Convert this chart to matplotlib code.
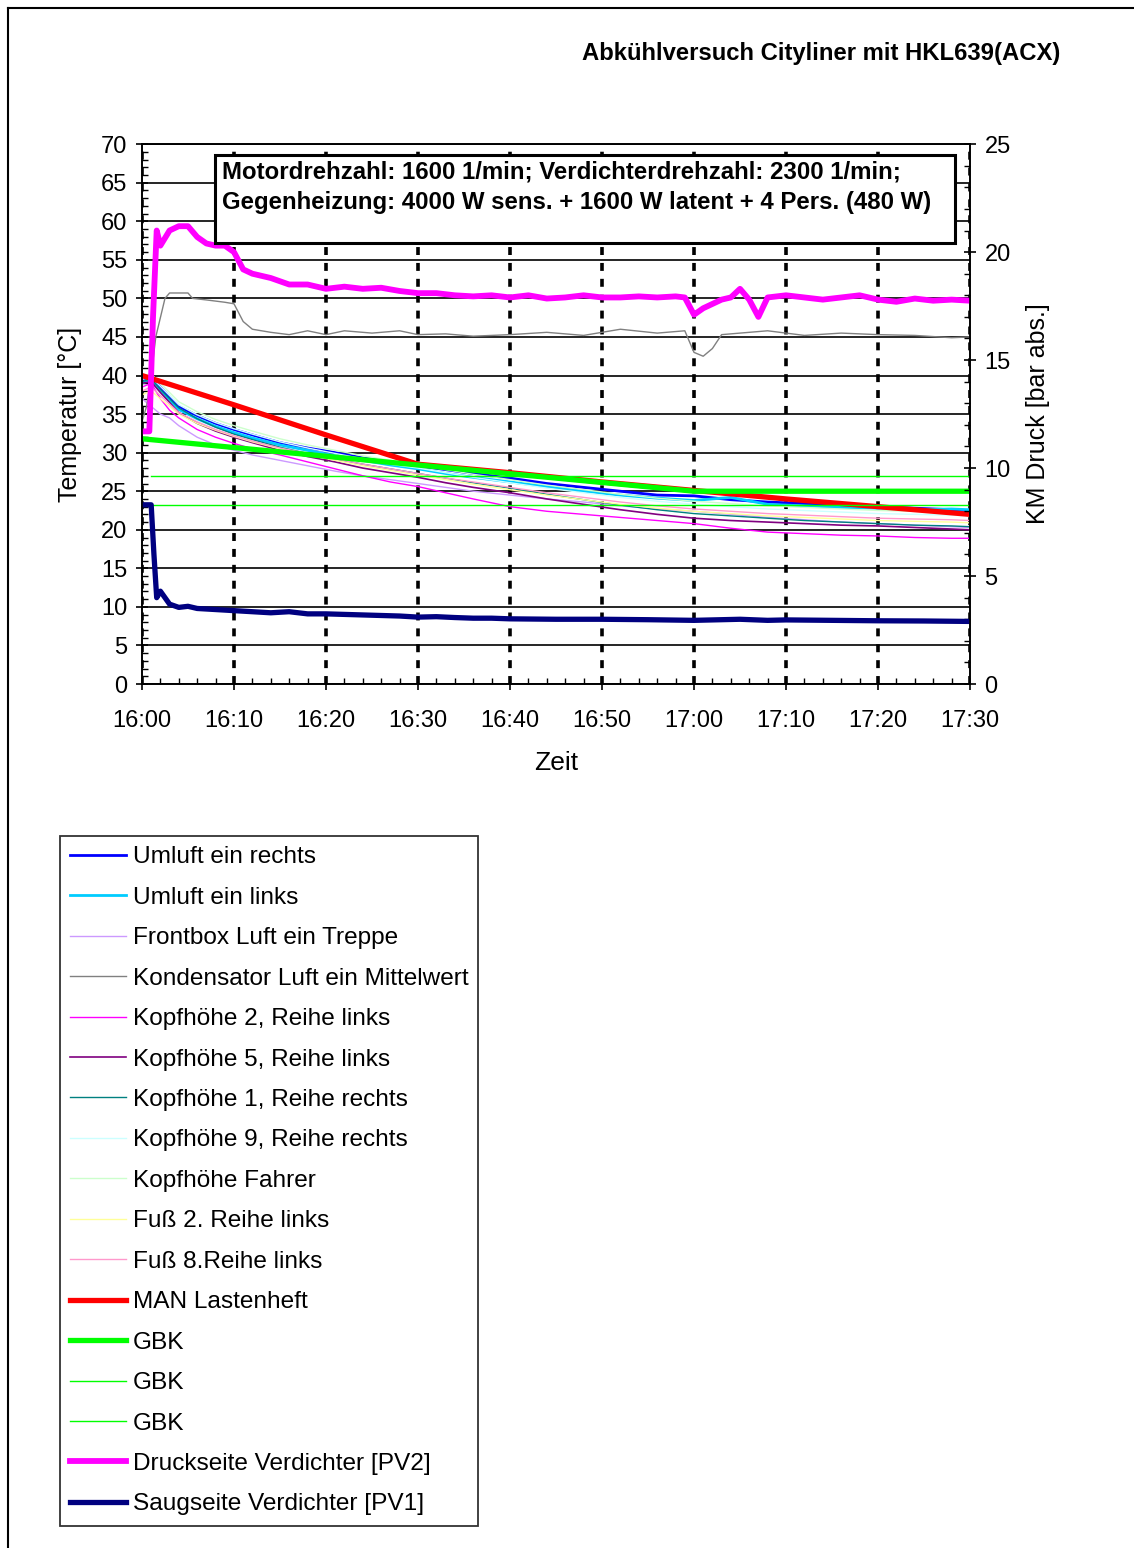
import matplotlib

matplotlib.use("Agg")
import matplotlib.pyplot as plt
from matplotlib.lines import Line2D
from matplotlib.patches import Rectangle
from matplotlib.ticker import MultipleLocator

# time in minutes after 16:00
time_labels = ["16:00", "16:10", "16:20", "16:30", "16:40", "16:50",
               "17:00", "17:10", "17:20", "17:30"]

# cabin temperatures [°C]
t_cab = [0, 1, 2, 3, 4, 6, 8, 10, 12, 15, 18, 21, 24, 27, 30, 33, 36,
         40, 44, 48, 52, 56, 60, 64, 68, 72, 76, 80, 84, 88, 90]
umluft_rechts = [39.5, 39.8, 38.5, 37.2, 36.0, 34.8, 33.8, 33.0, 32.3, 31.3,
                 30.6, 30.0, 29.3, 28.8, 28.3, 27.8, 27.3, 26.7, 26.0, 25.5,
                 25.0, 24.5, 24.4, 23.9, 23.6, 23.4, 23.1, 23.0, 22.8, 22.6, 22.4]
umluft_links = [39.0, 39.5, 38.0, 36.8, 35.6, 34.4, 33.4, 32.6, 31.9, 31.0,
                30.3, 29.6, 29.0, 28.4, 27.9, 27.3, 26.8, 26.2, 25.6, 25.0,
                24.5, 24.1, 23.8, 24.2, 23.3, 23.1, 22.9, 22.8, 22.6, 22.7, 22.6]
frontbox = [37.0, 36.0, 35.0, 34.5, 33.5, 32.0, 31.0, 30.3, 29.7, 29.0,
            28.3, 27.6, 27.0, 26.5, 26.0, 25.5, 25.0, 24.5, 24.0, 23.6,
            23.1, 22.7, 22.4, 22.0, 21.6, 21.3, 21.0, 20.8, 20.6, 20.4, 20.3]
kopf_2 = [38.5, 39.0, 37.0, 35.5, 34.5, 33.0, 32.0, 31.2, 30.5, 29.7,
          28.8, 27.9, 27.0, 26.2, 25.6, 24.8, 24.0, 23.0, 22.4, 22.0,
          21.6, 21.2, 20.8, 20.2, 19.7, 19.5, 19.3, 19.2, 19.0, 18.9, 18.9]
kopf_5 = [39.0, 39.2, 37.8, 36.5, 35.2, 33.8, 32.8, 32.0, 31.3, 30.3,
          29.5, 28.8, 28.0, 27.4, 26.8, 26.1, 25.5, 24.8, 24.0, 23.3,
          22.6, 22.0, 21.5, 21.2, 21.0, 20.8, 20.6, 20.5, 20.3, 20.1, 20.0]
kopf_1 = [39.2, 39.6, 38.2, 37.0, 35.8, 34.4, 33.3, 32.4, 31.7, 30.7,
          29.9, 29.2, 28.5, 27.9, 27.3, 26.7, 26.1, 25.4, 24.6, 23.9,
          23.2, 22.6, 22.1, 21.8, 21.5, 21.2, 21.0, 20.8, 20.6, 20.5, 20.4]
kopf_9 = [39.5, 39.8, 38.6, 37.4, 36.2, 34.9, 33.9, 33.1, 32.4, 31.4,
          30.6, 29.9, 29.2, 28.5, 28.0, 27.4, 26.8, 26.1, 25.4, 24.8,
          24.2, 23.7, 23.3, 23.0, 22.7, 22.5, 22.3, 22.1, 22.0, 21.9, 21.8]
kopf_fahrer = [40.0, 40.2, 39.0, 37.8, 36.6, 35.3, 34.3, 33.5, 32.8, 31.8,
               31.0, 30.3, 29.6, 29.0, 28.4, 27.8, 27.2, 26.5, 25.8, 25.2,
               24.6, 24.1, 23.7, 23.4, 23.1, 22.9, 22.7, 22.5, 22.4, 22.3, 22.2]
fuss_2 = [37.5, 38.0, 37.0, 36.0, 35.0, 33.8, 32.9, 32.1, 31.4, 30.5,
          29.7, 29.0, 28.3, 27.7, 27.1, 26.5, 25.9, 25.2, 24.5, 23.9,
          23.3, 22.8, 22.4, 22.1, 21.8, 21.6, 21.4, 21.2, 21.1, 21.0, 20.9]
fuss_8 = [38.0, 38.5, 37.4, 36.3, 35.2, 34.0, 33.0, 32.2, 31.5, 30.6,
          29.9, 29.2, 28.5, 27.9, 27.3, 26.7, 26.2, 25.5, 24.8, 24.2,
          23.6, 23.1, 22.7, 22.4, 22.1, 21.9, 21.7, 21.5, 21.4, 21.3, 21.2]

# condenser air inlet [°C]
t_kond = [0, 0.5, 1, 1.5, 2.5, 3, 5, 5.5, 7, 9, 10, 11, 12, 14, 16, 18, 20,
          22, 25, 28, 30, 33, 36, 40, 44, 48, 52, 56, 59, 60, 61, 62, 63, 65,
          68, 72, 76, 80, 84, 88, 90]
kondensator = [34.0, 36.0, 40.0, 45.0, 50.0, 50.7, 50.7, 50.0, 49.8, 49.5,
               49.3, 47.0, 46.0, 45.6, 45.3, 45.8, 45.3, 45.8, 45.5, 45.8,
               45.3, 45.4, 45.1, 45.3, 45.6, 45.2, 46.0, 45.5, 45.8, 43.0,
               42.5, 43.5, 45.3, 45.5, 45.8, 45.2, 45.5, 45.3, 45.2, 44.9, 45.0]

# reference curves [°C]
t_man = [0, 10, 20, 30, 40, 50, 60, 70, 80, 90]
man_lastenheft = [40.0, 36.2, 32.3, 28.5, 27.4, 26.2, 25.1, 24.0, 23.0, 22.0]
t_gbk = [0, 60, 90]
gbk = [31.8, 25.0, 25.0]
t_gbk_lim = [1, 90]
gbk_oben = [27.0, 27.0]
gbk_unten = [23.2, 23.2]

# compressor pressures [bar abs.]
t_pv2 = [0, 0.8, 1.2, 1.6, 2, 3, 4, 5, 6, 7, 8, 9, 10, 11, 12, 14, 16, 18,
         20, 22, 24, 26, 28, 30, 32, 34, 36, 38, 40, 42, 44, 46, 48, 50, 52,
         54, 56, 58, 59, 60, 61, 62, 63, 64, 65, 66, 67, 68, 70, 72, 74, 76,
         78, 80, 82, 84, 86, 88, 90]
druckseite = [11.7, 11.7, 17.0, 21.0, 20.3, 21.0, 21.2, 21.2, 20.7, 20.4,
              20.3, 20.3, 20.0, 19.2, 19.0, 18.8, 18.5, 18.5, 18.3, 18.4,
              18.3, 18.35, 18.2, 18.1, 18.1, 18.0, 17.95, 18.0, 17.9, 18.0,
              17.85, 17.9, 18.0, 17.9, 17.9, 17.95, 17.9, 17.95, 17.9, 17.1,
              17.4, 17.6, 17.8, 17.9, 18.3, 17.8, 17.0, 17.9, 18.0, 17.9,
              17.8, 17.9, 18.0, 17.8, 17.7, 17.85, 17.75, 17.8, 17.75]
t_pv1 = [0, 1, 1.3, 1.6, 2, 3, 4, 5, 6, 8, 10, 12, 14, 16, 18, 20, 24, 28,
         30, 32, 34, 36, 38, 40, 45, 50, 55, 60, 65, 68, 70, 75, 80, 85, 90]
saugseite = [8.3, 8.3, 6.0, 4.0, 4.3, 3.7, 3.55, 3.6, 3.5, 3.45, 3.4, 3.35,
             3.3, 3.35, 3.25, 3.25, 3.2, 3.15, 3.1, 3.12, 3.08, 3.05, 3.05,
             3.02, 3.0, 3.0, 2.98, 2.95, 3.0, 2.95, 2.97, 2.95, 2.93, 2.92, 2.9]


def main():
    plt.rcParams["font.family"] = ["Liberation Sans", "DejaVu Sans"]
    fig = plt.figure(figsize=(11.34, 15.48), dpi=100)
    ax = fig.add_axes([0.1252, 0.5581, 0.7302, 0.3488])
    ax2 = ax.twinx()

    # temperatures on left axis
    temp_series = [
        (t_cab, umluft_rechts, "#0000ff", 2.0, "Umluft ein rechts"),
        (t_cab, umluft_links, "#00ccff", 2.0, "Umluft ein links"),
        (t_cab, frontbox, "#cc99ff", 1.0, "Frontbox Luft ein Treppe"),
        (t_kond, kondensator, "#808080", 1.0, "Kondensator Luft ein Mittelwert"),
        (t_cab, kopf_2, "#ff00ff", 1.0, "Kopfhöhe 2, Reihe links"),
        (t_cab, kopf_5, "#800080", 1.2, "Kopfhöhe 5, Reihe links"),
        (t_cab, kopf_1, "#008080", 1.0, "Kopfhöhe 1, Reihe rechts"),
        (t_cab, kopf_9, "#ccffff", 1.0, "Kopfhöhe 9, Reihe rechts"),
        (t_cab, kopf_fahrer, "#ccffcc", 1.0, "Kopfhöhe Fahrer"),
        (t_cab, fuss_2, "#ffff99", 1.0, "Fuß 2. Reihe links"),
        (t_cab, fuss_8, "#ff99cc", 1.0, "Fuß 8.Reihe links"),
        (t_man, man_lastenheft, "#ff0000", 3.8, "MAN Lastenheft"),
        (t_gbk, gbk, "#00ff00", 3.8, "GBK"),
        (t_gbk_lim, gbk_oben, "#00ff00", 1.0, "GBK"),
        (t_gbk_lim, gbk_unten, "#00ff00", 1.0, "GBK"),
    ]
    handles = []
    for x, y, color, lw, label in temp_series:
        (line,) = ax.plot(x, y, color=color, lw=lw, label=label)
        handles.append(line)

    # pressures on right axis
    (l_pv2,) = ax2.plot(t_pv2, druckseite, color="#ff00ff", lw=4.2,
                        label="Druckseite Verdichter [PV2]")
    (l_pv1,) = ax2.plot(t_pv1, saugseite, color="#000080", lw=3.8,
                        label="Saugseite Verdichter [PV1]")
    handles += [l_pv2, l_pv1]

    ax.set_xlim(0, 90)
    ax.set_ylim(0, 70)
    ax2.set_ylim(0, 25)
    ax.set_xticks(range(0, 91, 10))
    ax.set_xticklabels(time_labels)
    ax.xaxis.set_minor_locator(MultipleLocator(2))
    ax.yaxis.set_major_locator(MultipleLocator(5))
    ax.yaxis.set_minor_locator(MultipleLocator(1))
    ax2.yaxis.set_major_locator(MultipleLocator(5))
    ax2.yaxis.set_minor_locator(MultipleLocator(1))

    ax.grid(axis="y", color="black", lw=1.2)
    ax.grid(axis="x", color="black", lw=2.6, ls=(0, (2.2, 2.2)))
    ax.set_axisbelow(True)

    for a in (ax, ax2):
        a.tick_params(which="major", direction="inout", length=9, width=1.2,
                      labelsize=17, colors="black")
        a.tick_params(which="minor", direction="in", length=4, width=1.0)
        for s in a.spines.values():
            s.set_linewidth(1.2)
    ax.tick_params(axis="x", pad=14)
    ax.tick_params(axis="y", pad=6)
    ax2.tick_params(axis="y", pad=6)

    ax.set_xlabel("Zeit", fontsize=19, labelpad=14)
    ax.set_ylabel("Temperatur [°C]", fontsize=18, labelpad=14)
    ax2.set_ylabel("KM Druck [bar abs.]", fontsize=18, labelpad=11)

    # info box
    ax2.add_patch(Rectangle((0.0882, 0.8167), 0.8938, 0.1629,
                            transform=ax2.transAxes, facecolor="white",
                            edgecolor="black", lw=2.2, zorder=5))
    ax2.text(0.0966, 0.948,
             "Motordrehzahl: 1600 1/min; Verdichterdrehzahl: 2300 1/min;",
             transform=ax2.transAxes, fontsize=17.3, fontweight="bold",
             va="center", ha="left", zorder=6)
    ax2.text(0.0966, 0.8926,
             "Gegenheizung: 4000 W sens. + 1600 W latent + 4 Pers. (480 W)",
             transform=ax2.transAxes, fontsize=17.3, fontweight="bold",
             va="center", ha="left", zorder=6)

    fig.text(0.9347, 0.9657, "Abkühlversuch Cityliner mit HKL639(ACX)",
             fontsize=17.2, fontweight="bold", ha="right", va="center")

    leg = fig.legend(handles=handles, loc="upper left",
                     bbox_to_anchor=(0.0529, 0.46), fontsize=17.6,
                     frameon=True, fancybox=False, handlelength=2.3,
                     handletextpad=0.25, labelspacing=0.75, borderpad=0.42,
                     borderaxespad=0)
    leg.get_frame().set_edgecolor("black")
    leg.get_frame().set_linewidth(1.3)

    # page border
    fig.add_artist(Line2D([0.0071, 0.0071], [0.0, 0.9948], color="black", lw=1.5))
    fig.add_artist(Line2D([0.0071, 1.0], [0.9948, 0.9948], color="black", lw=1.5))

    fig.savefig("out.png", dpi=100)


if __name__ == "__main__":
    main()
